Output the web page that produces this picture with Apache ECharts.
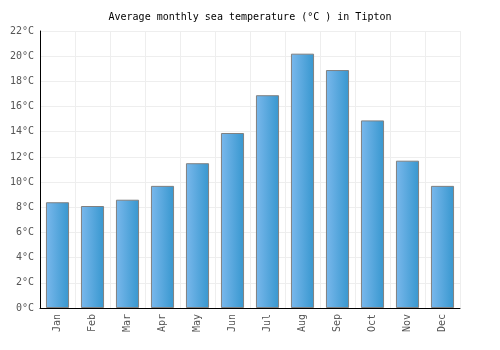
<!DOCTYPE html>
<html>
<head>
    <meta charset="utf-8">
    <title>Sea temperature</title>
    <script src="https://cdn.jsdelivr.net/npm/echarts@6/dist/echarts.min.js"></script>
    <style>
        body { margin: 0; background: #fff; }
    </style>
</head>
<body>
    <div id="main" style="width:500px;height:350px;"></div>
    <script type="text/javascript">
        var months = ['Jan', 'Feb', 'Mar', 'Apr', 'May', 'Jun', 'Jul', 'Aug', 'Sep', 'Oct', 'Nov', 'Dec'];
        var seaTemps = [8.4, 8.1, 8.6, 9.7, 11.5, 13.9, 16.9, 20.2, 18.9, 14.9, 11.7, 9.7];

        var myChart = echarts.init(document.getElementById('main'));
        var font = '"DejaVu Sans Mono", monospace';

        var option = {
            animation: false,
            backgroundColor: '#fff',
            title: {
                text: 'Average monthly sea temperature (°C ) in Tipton',
                left: 'center',
                top: 7,
                textStyle: { fontFamily: font, fontSize: 10, fontWeight: 'normal', color: '#000' }
            },
            grid: { left: 40, right: 40, top: 31, bottom: 42 },
            xAxis: {
                type: 'category',
                data: months,
                axisLine: { lineStyle: { color: '#000', width: 1 } },
                axisTick: { show: false },
                splitLine: { show: true, interval: 0, lineStyle: { color: '#eeeeee' } },
                axisLabel: {
                    rotate: 90,
                    interval: 0,
                    margin: 6,
                    fontFamily: font,
                    fontSize: 10,
                    color: '#555'
                }
            },
            yAxis: {
                type: 'value',
                min: 0,
                max: 22,
                interval: 2,
                axisLine: { show: true, lineStyle: { color: '#000', width: 1 } },
                axisTick: { show: false },
                splitLine: { lineStyle: { color: '#eeeeee' } },
                axisLabel: {
                    formatter: '{value}°C',
                    margin: 6,
                    fontFamily: font,
                    fontSize: 10,
                    color: '#555'
                }
            },
            series: [{
                type: 'bar',
                data: seaTemps,
                barWidth: '66%',
                itemStyle: {
                    borderColor: '#808080',
                    borderWidth: 1,
                    color: new echarts.graphic.LinearGradient(0, 0, 1, 0, [
                        { offset: 0, color: '#7ab8ec' },
                        { offset: 1, color: '#3797cf' }
                    ])
                }
            }]
        };

        myChart.setOption(option);
    </script>
</body>
</html>
